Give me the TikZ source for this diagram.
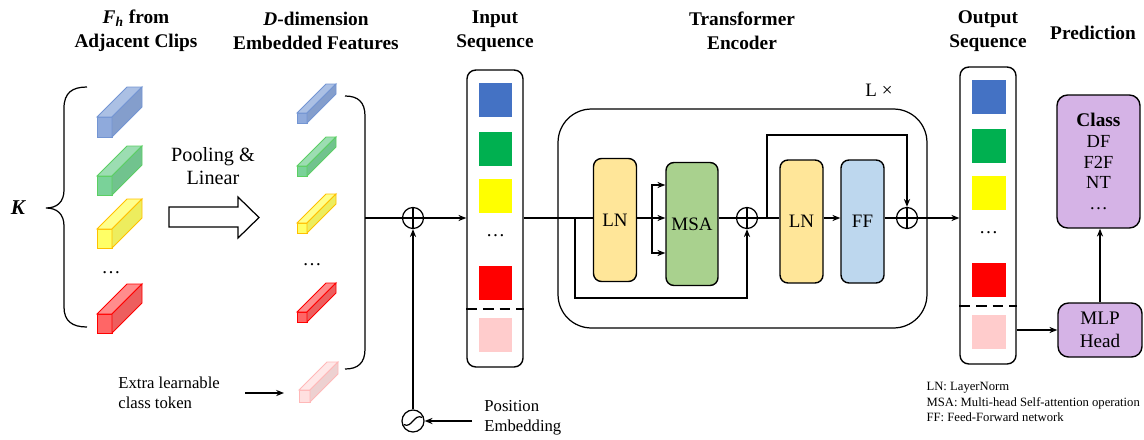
\documentclass[tikz,border=0pt]{standalone}
\usepackage{fontspec}
\setmainfont{Liberation Serif}
\usetikzlibrary{arrows.meta, positioning, calc}
\definecolor{sqblue}{HTML}{4472C4}
\definecolor{sqgreen}{HTML}{00B050}
\definecolor{sqyellow}{HTML}{FFFF00}
\definecolor{sqred}{HTML}{FF0000}
\definecolor{sqpink}{HTML}{FFCCCC}
\definecolor{lnfill}{HTML}{FFE699}
\definecolor{msafill}{HTML}{A9D18E}
\definecolor{fffill}{HTML}{BDD7EE}
\definecolor{headfill}{HTML}{D5B3E6}
\definecolor{cbgreen}{HTML}{22B455}
\definecolor{cbgreenedge}{HTML}{5BCF63}
\definecolor{cbyellowedge}{HTML}{FFC000}
\definecolor{cbpinkedge}{HTML}{FFB8B8}
% feature prism: x, y (front top left), w, h, depth, fill, edge
\newcommand{\prism}[7]{%
  \filldraw[draw=#7, fill=#6!60, line width=0.5pt] (#1,#2) rectangle ++(#3,#4);
  \filldraw[draw=#7, fill=#6!45, line width=0.5pt] (#1,#2) -- ++(#5,-#5) -- ++(#3,0) -- ++(-#5,#5) -- cycle;
  \filldraw[draw=#7, fill=#6!80!gray!70, line width=0.5pt] (#1+#3,#2) -- ++(#5,-#5) -- ++(0,#4) -- ++(-#5,#5) -- cycle;
}

\begin{document}
\begin{tikzpicture}[
  x=0.02cm, y=-0.02cm, line width=0.7pt,
  every node/.style={font=\fontsize{10.8}{13}\selectfont},
  title/.style={font=\fontsize{11}{13.7}\selectfont\bfseries, align=center},
  note/.style={font=\fontsize{9.5}{11.4}\selectfont, align=left, inner sep=1pt},
  seqbox/.style={draw, line width=0.8pt, rounded corners=5pt, minimum width=1.12cm, minimum height=5.94cm},
  tok/.style={minimum size=0.68cm, inner sep=0},
  block/.style={draw, line width=0.8pt, rounded corners=4.5pt, minimum width=0.86cm, minimum height=2.46cm, inner sep=0},
  headbox/.style={draw, line width=0.8pt, rounded corners=6pt, fill=headfill, align=center, inner sep=0},
  addnode/.style={circle, draw, minimum size=0.42cm, inner sep=0, path picture={
    \draw (path picture bounding box.north) -- (path picture bounding box.south)
          (path picture bounding box.west) -- (path picture bounding box.east);}},
  posnode/.style={circle, draw, minimum size=0.44cm, inner sep=0, path picture={
    \draw[shift={(path picture bounding box.center)}] (-5.3pt,-2pt) .. controls (-0.5pt,-4.5pt) and (0.5pt,4.5pt) .. (5.3pt,2pt);}},
  arr/.style={-{Stealth[length=4.5pt, width=3.5pt]}},
]
\useasboundingbox (0,0) rectangle (1144,440);

% titles
\node[title] (t-feat) at (136,31) {\textit{F}\textsubscript{\textit{h}} from\\Adjacent Clips};
\node[title] (t-emb) at (316,31) {\textit{D}-dimension\\Embedded Features};
\node[title] (t-in) at (495,31) {Input\\Sequence};
\node[title] (t-enc) at (742,31) {Transformer\\Encoder};
\node[title] (t-out) at (988,31) {Output\\Sequence};
\node[title] (t-pred) at (1093,33) {Prediction};

% clip features
\node[font=\fontsize{12}{14}\selectfont\bfseries\itshape] (k) at (18,208) {K};
\draw (87,87) .. controls (72,87) and (64,93) .. (64,108) -- (64,190) .. controls (64,202) and (57,208) .. (46,208)
      .. controls (57,208) and (64,214) .. (64,226) -- (64,307) .. controls (64,321) and (72,327) .. (87,327);
\prism{97}{117}{15}{20}{30}{sqblue}{sqblue!75}
\prism{97}{176}{15}{19}{30}{cbgreen}{cbgreenedge}
\prism{97}{229}{15}{19}{30}{sqyellow}{cbyellowedge}
\node (dots-feat) at (111,273) {\dots};
\prism{97}{314}{15}{19}{30}{sqred}{sqred}

% pooling arrow
\draw (169,207) -- (238,207) -- (238,197) -- (259,217.5) -- (238,238) -- (238,227) -- (169,227) -- cycle;
\node[font=\fontsize{11.5}{13.5}\selectfont, align=center] (pool) at (213,166) {Pooling \&\\Linear};

% embedded features
\prism{297}{113}{10}{10}{29}{sqblue}{sqblue!75}
\prism{297}{166}{10}{10}{29}{cbgreen}{cbgreenedge}
\prism{297}{223}{10}{10}{29}{sqyellow}{cbyellowedge}
\node (dots-emb) at (312,265) {\dots};
\prism{297}{312}{10}{10}{29}{sqred}{sqred}
\prism{299}{390}{11}{12}{28}{sqpink}{cbpinkedge}
\draw (345,96) .. controls (358,96) and (365,102) .. (365,116) -- (365,349) .. controls (365,363) and (358,369) .. (345,369);
\coordinate (brk) at (365,218);

\node[note, anchor=west] (extra) at (116,393) {Extra learnable\\class token};
\coordinate[right=0.46cm of extra.east] (exa);
\coordinate (tokin) at (284,393);
\draw[arr] (exa) -- (tokin);

% sequences
\node[seqbox] (inseq) at (495,218.5) {};
\node[seqbox] (outseq) at (988,215.5) {};
\foreach \seq in {inseq, outseq} {
  \foreach \col/\dy in {sqblue/30.5, sqgreen/79.5, sqyellow/126.5, sqred/213.5, sqpink/265.5}
    \node[tok, fill=\col] (\seq-\col) at ($(\seq.north)+(0.5,\dy)$) {};
  \node (\seq-dots) at ($(\seq.north)+(0.5,166)$) {\dots};
  \draw[line width=0.8pt, dash pattern=on 6pt off 3.5pt] ($(\seq.north west)+(0,239.5)$) -- ($(\seq.north east)+(0,239.5)$);
}

% position embedding
\node[addnode] (add0) at (413,218) {};
\node[posnode] (pos) at (413,421) {};
\node[note, anchor=west] (posemb) at (482,418) {Position\\Embedding};
\coordinate[left=0.2cm of posemb.west] (posa);
\draw (brk) -- (add0);
\draw[arr] (add0) -- (add0 -| inseq.west);
\draw[arr] (pos) -- (add0);
\draw[arr] (posa |- pos) -- (pos);

% transformer encoder
\node[draw, rounded corners=19pt, minimum width=7.38cm, minimum height=4.38cm] (enc) at (742.5,218.5) {};
\node (lx) at (879,90) {L \texttimes};
\node[block, fill=lnfill] (ln1) at (615,220) {LN};
\node[block, fill=msafill, minimum width=1.04cm] (msa) at (692,224) {MSA};
\node[addnode] (add1) at (747,218) {};
\node[block, fill=lnfill] (ln2) at (801.5,221.5) {LN};
\node[block, fill=fffill] (ff) at (862.5,221.5) {FF};
\node[addnode] (add2) at (907,218) {};
\coordinate (skip1) at (575,218);
\coordinate (split) at (652,218);
\coordinate (skip2) at (767,218);

\draw (inseq.east |- add1) -- (add1 -| ln1.west);
\draw (ln1.east |- split) -- (split);
\draw[arr] (split) -- (split -| msa.west);
\draw[arr] (split) |- ($(split -| msa.west)+(0,-33)$);
\draw[arr] (split) |- ($(split -| msa.west)+(0,35)$);
\draw (msa.east |- add1) -- (add1);
\draw[arr] (skip1) -- ++(0,80) -| (add1.south);
\draw (add1) -- (add1 -| ln2.west);
\draw[arr] (ln2.east |- add2) -- (add2 -| ff.west);
\draw (ff.east |- add2) -- (add2);
\draw[arr] (skip2) -- ++(0,-83) -| (add2.north);
\draw[arr] (add2) -- (add2 -| outseq.west);

% prediction
\node[headbox, minimum width=1.68cm, minimum height=1.08cm, font=\fontsize{10.9}{13}\selectfont] (mlp) at (1100,330) {MLP\\Head};
\node[headbox, minimum width=1.66cm, minimum height=2.66cm, font=\fontsize{10.5}{11.7}\selectfont] (cls) at (1098.5,161.5) {{\fontsize{11}{11.7}\selectfont\bfseries Class}\\DF\\F2F\\NT\\\dots};
\draw[arr] (outseq.east |- mlp) -- (mlp.west);
\draw[arr] (mlp.north) -- (mlp.north |- cls.south);

\node[anchor=north west, align=left, inner sep=0, font=\fontsize{7.2}{8.6}\selectfont] (legend) at (926,382) {LN: LayerNorm\\MSA: Multi-head Self-attention operation\\FF: Feed-Forward network};
\end{tikzpicture}
\end{document}
